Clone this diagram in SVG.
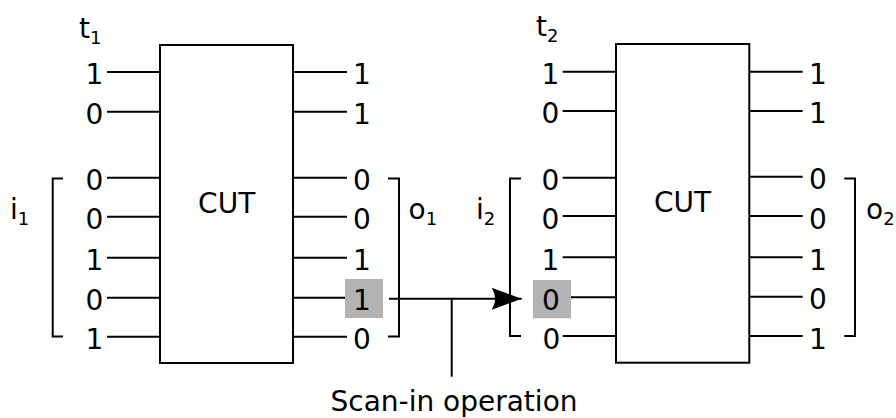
<svg xmlns="http://www.w3.org/2000/svg" width="896" height="418" viewBox="0 0 896 418">
  <style>
    .ln { stroke: #000; stroke-width: 2; fill: none; }
    .box { stroke: #000; stroke-width: 2; fill: #fff; }
    .t { font-family: "DejaVu Sans", "Noto Sans", sans-serif; font-size: 28px; fill: #000; }
    .c { text-anchor: middle; }
    .sub { font-size: 18px; }
    .hl { fill: #b3b3b3; }
  </style>
  <defs>
    <marker id="arrow" viewBox="0 0 32 24" refX="31" refY="12" markerWidth="32" markerHeight="24" markerUnits="userSpaceOnUse" orient="auto">
      <path d="M31,12 L1,1 Q8,12 1,23 Z" fill="#000"/>
    </marker>
  </defs>

  <!-- first test vector -->
  <g id="cut1">
    <rect class="box" x="160" y="45" width="133" height="318"/>
    <text class="t c" x="226.7" y="213">CUT</text>
    <text class="t" x="79" y="38">t<tspan class="sub" dy="5.5">1</tspan></text>
    <path class="ln" d="M107,72H160 M107,111.7H160 M107,177.7H160 M107,216.7H160 M107,257.7H160 M107,297.7H160 M107,336.7H160"/>
    <path class="ln" d="M293,72H347 M293,111.7H347 M293,177.7H347 M293,216.7H347 M293,257.7H347 M293,297.7H347 M293,336.7H347"/>
    <rect class="hl" x="345" y="279" width="38" height="39"/>
    <g class="t c">
      <text x="94.5" y="84">1</text>
      <text x="94.5" y="123.5">0</text>
      <text x="94.5" y="189.5">0</text>
      <text x="94.5" y="229">0</text>
      <text x="94.5" y="270">1</text>
      <text x="94.5" y="310">0</text>
      <text x="94.5" y="349">1</text>
      <text x="362" y="84">1</text>
      <text x="362" y="123.5">1</text>
      <text x="362" y="189.5">0</text>
      <text x="362" y="229">0</text>
      <text x="362" y="270">1</text>
      <text x="362" y="310">1</text>
      <text x="362" y="349">0</text>
    </g>
  </g>

  <g id="i1">
    <path class="ln" d="M63,178.5H52.7V336.5H63"/>
    <text class="t" x="10" y="219">i<tspan class="sub" dy="6">1</tspan></text>
  </g>
  <g id="o1">
    <path class="ln" d="M388,178.5H399V336.5H388"/>
    <text class="t" x="408.5" y="219">o<tspan class="sub" dy="6">1</tspan></text>
  </g>

  <!-- second test vector -->
  <g id="cut2">
    <rect class="box" x="616" y="44" width="133.3" height="318.7"/>
    <text class="t c" x="682.6" y="212">CUT</text>
    <text class="t" x="536" y="36">t<tspan class="sub" dy="5.5">2</tspan></text>
    <path class="ln" d="M562.7,71.7H616 M562.7,111H616 M562.7,177.7H616 M562.7,216H616 M562.7,257.3H616 M562.7,297.3H616 M562.7,336H616"/>
    <path class="ln" d="M749.3,71.7H802.7 M749.3,111H802.7 M749.3,176.7H802.7 M749.3,216H802.7 M749.3,257.3H802.7 M749.3,296.7H802.7 M749.3,336H802.7"/>
    <rect class="hl" x="533" y="280" width="38" height="38.3"/>
    <g class="t c">
      <text x="550.5" y="83.7">1</text>
      <text x="550.5" y="123">0</text>
      <text x="550.5" y="189.5">0</text>
      <text x="550.5" y="228.5">0</text>
      <text x="550.5" y="269.5">1</text>
      <text x="551" y="309.5">0</text>
      <text x="551.5" y="348.5">0</text>
      <text x="818" y="83.7">1</text>
      <text x="818" y="123">1</text>
      <text x="818" y="188.5">0</text>
      <text x="818" y="228.5">0</text>
      <text x="818" y="269.5">1</text>
      <text x="818" y="309">0</text>
      <text x="818" y="348.5">1</text>
    </g>
  </g>

  <g id="i2">
    <path class="ln" d="M521,178.5H510V336H521"/>
    <text class="t" x="476" y="219">i<tspan class="sub" dy="6">2</tspan></text>
  </g>
  <g id="o2">
    <path class="ln" d="M844.3,178.5H855V336H844.3"/>
    <text class="t" x="866" y="219">o<tspan class="sub" dy="6">2</tspan></text>
  </g>

  <!-- scan-in path from o1 to i2 -->
  <g id="connectors">
    <path class="ln" d="M389,298.7H521.7" marker-end="url(#arrow)"/>
    <path class="ln" d="M451.7,298.7V376.7"/>
  </g>

  <g id="scan-label">
    <text class="t c" x="454" y="411">Scan-in operation</text>
  </g>
</svg>
